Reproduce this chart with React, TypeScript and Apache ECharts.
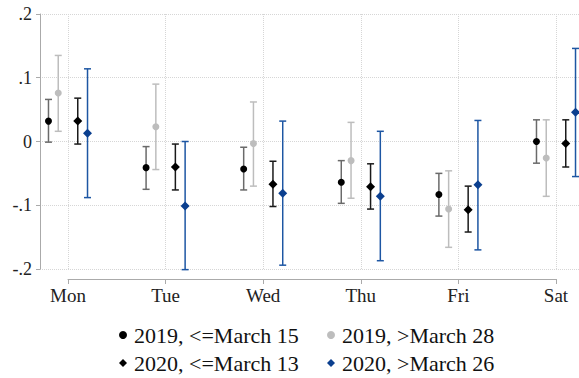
import React, { useEffect, useRef } from "react";
import * as echarts from "echarts";

const days = ["Mon", "Tue", "Wed", "Thu", "Fri", "Sat"];
const yTickLabels: Record<string, string> = { "0.2": ".2", "0.1": ".1", "0": "0", "-0.1": "-.1", "-0.2": "-.2" };

const names = ["2019, <=March 15", "2019, >March 28", "2020, <=March 13", "2020, >March 26"];
const offsets = [-0.2, -0.1, 0.1, 0.2];

const s1Est = [0.032, -0.041, -0.043, -0.064, -0.083, 0.0];
const s1Lo = [-0.001, -0.075, -0.076, -0.097, -0.117, -0.034];
const s1Hi = [0.066, -0.008, -0.009, -0.03, -0.05, 0.034];

const s2Est = [0.076, 0.023, -0.003, -0.03, -0.106, -0.026];
const s2Lo = [0.016, -0.044, -0.07, -0.089, -0.166, -0.086];
const s2Hi = [0.135, 0.09, 0.062, 0.03, -0.046, 0.034];

const s3Est = [0.032, -0.04, -0.067, -0.071, -0.107, -0.003];
const s3Lo = [-0.004, -0.076, -0.102, -0.106, -0.142, -0.04];
const s3Hi = [0.068, -0.004, -0.031, -0.035, -0.07, 0.034];

const s4Est = [0.013, -0.101, -0.081, -0.086, -0.068, 0.046];
const s4Lo = [-0.088, -0.201, -0.194, -0.187, -0.17, -0.055];
const s4Hi = [0.114, 0.0, 0.032, 0.016, 0.033, 0.146];

const est = [s1Est, s2Est, s3Est, s4Est];
const lo = [s1Lo, s2Lo, s3Lo, s4Lo];
const hi = [s1Hi, s2Hi, s3Hi, s4Hi];

const pointColors = ["#000000", "#bdbdbd", "#000000", "#0b3f8f"];
const barColors = ["#6a6a6a", "#bdbdbd", "#1a1a1a", "#1d56a3"];
const symbols = ["circle", "circle", "diamond", "diamond"];
const symbolSizes = [7, 7, 9, 9];

const FONT = "Liberation Serif";

export default function App() {
  const ref = useRef<HTMLDivElement>(null);
  useEffect(() => {
    if (!ref.current) return;
    const chart = echarts.init(ref.current, undefined, { renderer: "svg" });
    const pxPerDay = 97.6;
    const xMin = 1 - 28 / pxPerDay;
    const xMax = 6 + 23 / pxPerDay;

    const errSeries = est.map((_, si) => ({
      type: "custom",
      name: "err" + si,
      xAxisIndex: 0,
      yAxisIndex: 0,
      z: 2,
      encode: { x: 0, y: [1, 2] },
      data: days.map((_, di) => [di + 1 + offsets[si], lo[si][di], hi[si][di]]),
      renderItem: (params: any, api: any) => {
        const x = api.value(0);
        const pLo = api.coord([x, api.value(1)]);
        const pHi = api.coord([x, api.value(2)]);
        const cap = 3.5;
        const style = { stroke: barColors[si], lineWidth: 1.5 };
        return {
          type: "group",
          children: [
            { type: "line", shape: { x1: pLo[0], y1: pLo[1], x2: pHi[0], y2: pHi[1] }, style },
            { type: "line", shape: { x1: pLo[0] - cap, y1: pLo[1], x2: pLo[0] + cap, y2: pLo[1] }, style },
            { type: "line", shape: { x1: pHi[0] - cap, y1: pHi[1], x2: pHi[0] + cap, y2: pHi[1] }, style },
          ],
        };
      },
      ...(si === 0
        ? {
            markLine: {
              silent: true,
              symbol: ["none", "none"],
              label: { show: false },
              lineStyle: { type: "dotted", color: "#d6d6d6", width: 1 },
              data: days.map((_, di) => ({ xAxis: di + 1 })),
            },
          }
        : {}),
    }));

    const pointSeries = est.map((arr, si) => ({
      type: "scatter",
      name: names[si],
      xAxisIndex: 0,
      yAxisIndex: 0,
      z: 3,
      symbol: symbols[si],
      symbolSize: symbolSizes[si],
      itemStyle: { color: pointColors[si], opacity: 1 },
      data: arr.map((v, di) => [di + 1 + offsets[si], v]),
    }));

    const legendText = { fontFamily: FONT, fontSize: 22, color: "#111", lineHeight: 22, padding: [0, 0, 0, 2] };
    const legendBase = {
      orient: "vertical",
      top: 324,
      height: 54,
      padding: 0,
      itemWidth: 8,
      itemHeight: 8,
      itemGap: 6,
      textStyle: legendText,
    };

    chart.setOption({
      animation: false,
      backgroundColor: "#ffffff",
      textStyle: { fontFamily: FONT },
      grid: [
        { left: 40, right: 0, top: 14, height: 255 },
        { left: 68, right: 23, top: 269, height: 10 },
      ],
      xAxis: [
        {
          type: "value",
          gridIndex: 0,
          min: xMin,
          max: xMax,
          axisLine: { show: false },
          axisTick: { show: false },
          axisLabel: { show: false },
          splitLine: { show: false },
        },
        {
          type: "value",
          gridIndex: 1,
          min: 1,
          max: 6,
          interval: 1,
          position: "bottom",
          axisLine: { show: true, lineStyle: { color: "#aaaaaa", width: 1 } },
          axisTick: { show: true, length: 5, lineStyle: { color: "#aaaaaa" } },
          axisLabel: {
            margin: 7,
            fontFamily: FONT,
            fontSize: 19,
            color: "#222",
            formatter: (v: number) => days[Math.round(v) - 1] ?? "",
          },
          splitLine: { show: false },
        },
      ],
      yAxis: [
        {
          type: "value",
          gridIndex: 0,
          min: -0.2,
          max: 0.2,
          interval: 0.1,
          axisLine: { show: true, lineStyle: { color: "#aaaaaa", width: 1 } },
          axisTick: { show: true, length: 4, lineStyle: { color: "#aaaaaa" } },
          axisLabel: {
            margin: 8,
            fontFamily: FONT,
            fontSize: 18,
            color: "#222",
            formatter: (v: number) => yTickLabels[String(Math.round(v * 10) / 10)] ?? "",
          },
          splitLine: { show: true, lineStyle: { type: "dotted", color: "#d6d6d6", width: 1 } },
        },
        { type: "value", gridIndex: 1, show: false },
      ],
      legend: [
        { ...legendBase, left: 119, data: [names[0], names[2]] },
        { ...legendBase, left: 327, data: [names[1], names[3]] },
      ],
      series: [...errSeries, ...pointSeries],
    });
    return () => chart.dispose();
  }, []);
  return <div ref={ref} style={{ position: "fixed", left: 0, top: 0, width: 579, height: 378 }} />;
}
